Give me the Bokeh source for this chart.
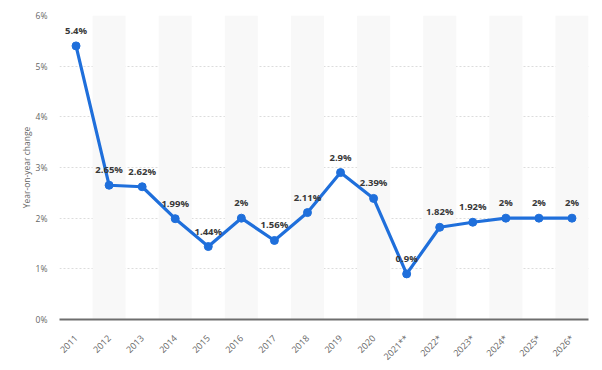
from bokeh.plotting import figure
from bokeh.models import FactorRange, Range1d, FixedTicker, ColumnDataSource
from bokeh.embed import file_html
from bokeh.resources import INLINE
from bokeh.core.properties import value
import math

years = ["2011", "2012", "2013", "2014", "2015", "2016", "2017", "2018", "2019",
         "2020", "2021**", "2022*", "2023*", "2024*", "2025*", "2026*"]
change = [5.4, 2.65, 2.62, 1.99, 1.44, 2, 1.56, 2.11, 2.9, 2.39, 0.9, 1.82, 1.92, 2, 2, 2]
labels = ["5.4%", "2.65%", "2.62%", "1.99%", "1.44%", "2%", "1.56%", "2.11%", "2.9%",
          "2.39%", "0.9%", "1.82%", "1.92%", "2%", "2%", "2%"]
y_ticks = [0, 1, 2, 3, 4, 5, 6]
y_tick_labels = ["0%", "1%", "2%", "3%", "4%", "5%", "6%"]

FONT = "Open Sans"

p = figure(width=592, height=370, x_range=FactorRange(*years), y_range=Range1d(0, 6),
           output_backend="svg", toolbar_location=None,
           min_border_left=59, min_border_right=4, min_border_top=15, min_border_bottom=51)
p.outline_line_color = None

# alternating background bands
band_x = [y for i, y in enumerate(years) if i % 2 == 1]
p.vbar(x=band_x, top=6, bottom=0, width=1.0, fill_color="#f8f8f8", line_color=None)

p.xgrid.grid_line_color = None
p.ygrid.grid_line_color = "#dcdcdc"
p.ygrid.grid_line_dash = "2 2"
p.ygrid.grid_line_width = 1
p.ygrid.ticker = FixedTicker(ticks=y_ticks[1:])

src = ColumnDataSource(dict(x=years, y=change, t=labels))
p.line("x", "y", source=src, line_color="#1f6fdb", line_width=3.2)
p.scatter("x", "y", source=src, size=8, fill_color="#1f6fdb", line_color="#1f6fdb")
p.text("x", "y", text="t", source=src, y_offset=-9, text_align="center",
       text_baseline="bottom", text_font=value(FONT), text_font_size="9.5px",
       text_font_style="bold", text_color="#383838")

p.yaxis.ticker = FixedTicker(ticks=y_ticks)
p.yaxis.major_label_overrides = {t: l for t, l in zip(y_ticks, y_tick_labels)}
p.yaxis.axis_line_color = None
p.yaxis.major_tick_line_color = None
p.yaxis.minor_tick_line_color = None
p.yaxis.major_label_standoff = 6
p.yaxis.major_label_text_font = FONT
p.yaxis.major_label_text_font_size = "8.5px"
p.yaxis.major_label_text_color = "#666666"
p.yaxis.axis_label = "Year-on-year change"
p.yaxis.axis_label_text_font = FONT
p.yaxis.axis_label_text_font_size = "8.5px"
p.yaxis.axis_label_text_font_style = "normal"
p.yaxis.axis_label_text_color = "#666666"
p.yaxis.axis_label_standoff = 1

p.xaxis.axis_line_color = "#6e6e6e"
p.xaxis.axis_line_width = 2
p.xaxis.major_tick_line_color = None
p.xaxis.minor_tick_line_color = None
p.xaxis.major_label_orientation = math.pi / 4
p.xaxis.major_label_standoff = 11
p.xaxis.major_label_text_font = FONT
p.xaxis.major_label_text_font_size = "9px"
p.xaxis.major_label_text_color = "#666666"

open("out.html", "w").write(file_html(p, INLINE))
